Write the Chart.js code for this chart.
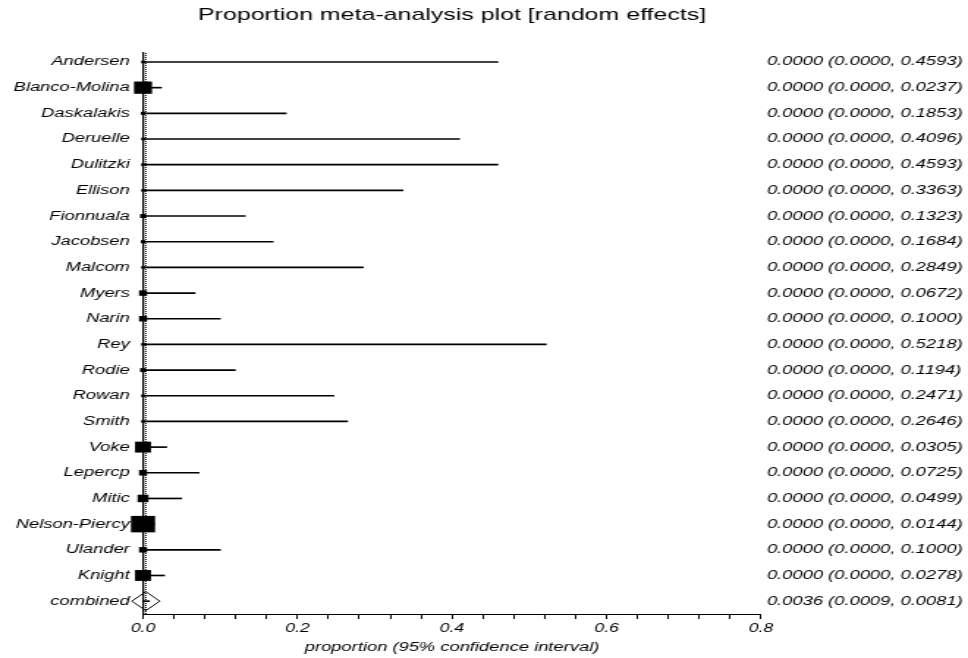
<!DOCTYPE html>
<html>
<head>
<meta charset="utf-8">
<title>Proportion meta-analysis plot</title>
<script src="https://cdn.jsdelivr.net/npm/chart.js@4.4.1/dist/chart.umd.min.js"></script>
<style>
    html, body { margin: 0; padding: 0; background: #fff; overflow: hidden; }
    /* The source plot is horizontally stretched, so draw narrow and stretch */
    #wrap { width: 660px; height: 658px; transform: scaleX(1.466667); transform-origin: 0 0; }
</style>
</head>
<body>
<div id="wrap"><canvas id="forest" width="660" height="658"></canvas></div>
<script>
// Studies (top to bottom)
const studies = [
    'Andersen', 'Blanco-Molina', 'Daskalakis', 'Deruelle', 'Dulitzki', 'Ellison',
    'Fionnuala', 'Jacobsen', 'Malcom', 'Myers', 'Narin', 'Rey', 'Rodie', 'Rowan',
    'Smith', 'Voke', 'Lepercp', 'Mitic', 'Nelson-Piercy', 'Ulander', 'Knight',
];

const estimates = [
    0, 0, 0, 0, 0, 0, 0, 0, 0, 0, 0, 0, 0, 0, 0, 0, 0, 0, 0, 0, 0,
];

const lowerCI = [
    0, 0, 0, 0, 0, 0, 0, 0, 0, 0, 0, 0, 0, 0, 0, 0, 0, 0, 0, 0, 0,
];

const upperCI = [
    0.4593, 0.0237, 0.1853, 0.4096, 0.4593, 0.3363, 0.1323, 0.1684, 0.2849, 0.0672, 0.1000,
    0.5218, 0.1194, 0.2471, 0.2646, 0.0305, 0.0725, 0.0499, 0.0144, 0.1000, 0.0278,
];

// Relative weights (%)
const weights = [
    0.7, 16.0, 1.0, 0.7, 0.7, 0.7, 1.7, 1.0, 0.7, 3.2, 3.2,
    0.7, 1.7, 0.7, 0.7, 12.6, 3.2, 5.9, 28.8, 3.2, 12.6,
];

// Pooled (random effects) result
const pooledLabel = 'combined';
const pooledEstimate = 0.0036;
const pooledLower = 0.0009;
const pooledUpper = 0.0081;

// X axis
const xMin = 0;
const xMax = 0.8;
const xMinorStep = 0.04;
const xLabelStep = 0.2;

const rowLabels = [...studies, pooledLabel];
const allEst = [...estimates, pooledEstimate];
const allLow = [...lowerCI, pooledLower];
const allUp = [...upperCI, pooledUpper];
const ciLabels = rowLabels.map((_, i) =>
    `${allEst[i].toFixed(4)} (${allLow[i].toFixed(4)}, ${allUp[i].toFixed(4)})`
);

const FONT = "'Liberation Sans', Arial, Helvetica, sans-serif";
Chart.defaults.font.family = FONT;
Chart.defaults.color = '#000';

// Dotted vertical line at the pooled estimate
const pooledLinePlugin = {
    id: 'pooledLine',
    afterDatasetsDraw(chart) {
        const { ctx, chartArea, scales } = chart;
        const x = scales.x.getPixelForValue(pooledEstimate);
        ctx.save();
        ctx.strokeStyle = '#000';
        ctx.lineWidth = 1;
        ctx.setLineDash([1, 1]);
        ctx.beginPath();
        ctx.moveTo(x, chartArea.top);
        ctx.lineTo(x, chartArea.bottom);
        ctx.stroke();
        ctx.restore();
    },
};

const rowTicks = (scale) => {
    scale.ticks = rowLabels.map((_, i) => ({ value: i }));
};

const isLabelTick = (v) => Math.abs(v / xLabelStep - Math.round(v / xLabelStep)) < 1e-6;

new Chart(document.getElementById('forest'), {
    type: 'scatter',
    data: {
        datasets: [
            {
                // confidence intervals
                type: 'bar',
                indexAxis: 'y',
                data: rowLabels.map((_, i) => ({ y: i, x: [allLow[i], allUp[i]] })),
                backgroundColor: '#000',
                barThickness: 1,
                borderWidth: 0,
                clip: false,
                order: 0,
            },
            {
                // study estimates, box area by weight
                type: 'scatter',
                data: studies.map((_, i) => ({ x: estimates[i], y: i })),
                pointStyle: 'rect',
                pointRadius: (c) => Math.sqrt(weights[c.dataIndex] * 9.4) / Math.SQRT2,
                pointBackgroundColor: '#000',
                pointBorderWidth: 0,
                clip: false,
                order: 1,
            },
            {
                // pooled diamond
                type: 'scatter',
                data: [{ x: pooledEstimate, y: studies.length }],
                pointStyle: 'rectRot',
                pointRadius: 9.5,
                pointBackgroundColor: 'rgba(255,255,255,0)',
                pointBorderColor: '#000',
                pointBorderWidth: 1,
                clip: false,
                order: 1,
            },
        ],
    },
    options: {
        responsive: false,
        animation: false,
        devicePixelRatio: 1,
        layout: { padding: 0 },
        plugins: {
            legend: { display: false },
            tooltip: { enabled: false },
            title: {
                display: true,
                fullSize: false,
                text: 'Proportion meta-analysis plot [random effects]',
                color: '#000',
                font: { size: 17, weight: 'normal' },
                padding: { top: 5, bottom: 27.6 },
            },
        },
        scales: {
            x: {
                type: 'linear',
                min: xMin,
                max: xMax,
                offset: false,
                grid: { display: true, drawOnChartArea: false, drawTicks: true, tickLength: 5, color: '#000', lineWidth: 1 },
                border: { display: true, color: '#000', width: 1 },
                ticks: {
                    stepSize: xMinorStep,
                    autoSkip: false,
                    maxRotation: 0,
                    padding: 2,
                    color: '#000',
                    font: { size: 12, style: 'italic' },
                    callback: (v) => (isLabelTick(v) ? Number(v).toFixed(1) : ''),
                },
                title: {
                    display: true,
                    text: 'proportion (95% confidence interval)',
                    color: '#000',
                    font: { size: 12.5, style: 'italic' },
                    padding: { top: 3, bottom: 2.5 },
                },
                afterFit: (s) => { s.height = 44; },
            },
            y: {
                type: 'linear',
                position: 'left',
                reverse: true,
                offset: false,
                min: -0.35,
                max: rowLabels.length - 0.5,
                grid: { display: false, drawTicks: false, offset: false },
                border: { display: true, color: '#000', width: 1.3 },
                afterBuildTicks: rowTicks,
                ticks: {
                    padding: 9,
                    color: '#000',
                    font: { size: 12.5, style: 'italic' },
                    callback: (v) => rowLabels[v],
                },
                afterFit: (s) => { s.width = 97.5; },
            },
            yRight: {
                type: 'linear',
                position: 'right',
                reverse: true,
                offset: false,
                min: -0.35,
                max: rowLabels.length - 0.5,
                grid: { display: false, drawTicks: false },
                border: { display: false },
                afterBuildTicks: rowTicks,
                ticks: {
                    padding: 4,
                    color: '#000',
                    font: { size: 12.5, style: 'italic' },
                    callback: (v) => ciLabels[v],
                },
                afterFit: (s) => { s.width = 141.1; },
            },
        },
    },
    plugins: [pooledLinePlugin],
});
</script>
</body>
</html>
